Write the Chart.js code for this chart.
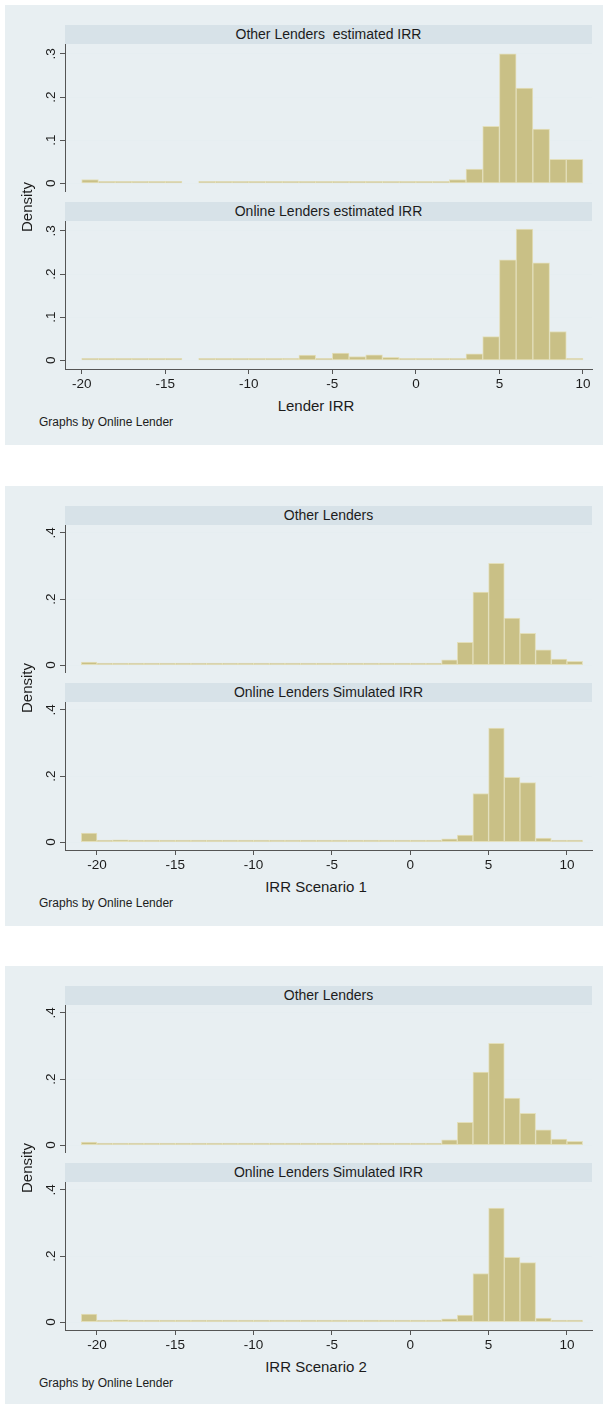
<!DOCTYPE html>
<html>
<head>
<meta charset="utf-8">
<script src="https://cdn.jsdelivr.net/npm/chart.js@4.4.1/dist/chart.umd.min.js"></script>
<style>
  body { margin: 0; background: #fff; font-family: "Liberation Sans", Arial, sans-serif; color: #1c1c1c; }
  #page { position: relative; width: 603px; height: 1404px; overflow: hidden; }
  .bg { position: absolute; left: 5px; width: 598px; height: 440px; background: #e8eff2; }
  .strip { position: absolute; left: 65px; width: 527px; height: 19px; background: #d7e2e8;
           font-size: 14px; line-height: 19px; text-align: center; white-space: pre; }
  canvas { position: absolute; left: 0; }
  .xtitle { position: absolute; left: 216px; width: 200px; text-align: center; font-size: 15px; line-height: 18px; }
  .note { position: absolute; left: 39px; font-size: 12px; line-height: 14px; }
  .ytitle { position: absolute; left: -23px; width: 100px; text-align: center; font-size: 15px; line-height: 18px;
            transform: rotate(-90deg); }
</style>
</head>
<body>
<div id="page"></div>
<script>
// bin lower edges (width 1)
const bins1 = [-20, -19, -18, -17, -16, -15, -14, -13, -12, -11, -10, -9, -8, -7, -6, -5, -4, -3, -2, -1,
               0, 1, 2, 3, 4, 5, 6, 7, 8, 9];
const bins2 = [-21, -20, -19, -18, -17, -16, -15, -14, -13, -12, -11, -10, -9, -8, -7, -6, -5, -4, -3, -2, -1,
               0, 1, 2, 3, 4, 5, 6, 7, 8, 9, 10];

// Lender IRR
const otherEst = [0.009, 0.001, 0.001, 0.001, 0.001, 0.002, null, 0.002, 0.001, 0.001, 0.002, 0.002, 0.002, 0.002, 0.002,
                  0.003, 0.003, 0.004, 0.004, 0.003, 0.001, 0.004, 0.009, 0.033, 0.132, 0.300, 0.221, 0.126, 0.056, 0.056];
const onlineEst = [0.002, 0.001, 0.001, 0.001, 0.001, 0.001, null, 0.001, 0.001, 0.001, 0.001, 0.002, 0.005, 0.012, 0.003,
                   0.017, 0.009, 0.013, 0.007, 0.003, 0.002, 0.002, 0.004, 0.015, 0.055, 0.233, 0.304, 0.226, 0.067, 0.005];

// IRR Scenario 1
const otherS1 = [0.009, 0.002, 0.001, 0.001, 0.001, 0.002, 0.002, 0.002, 0.002, 0.002, 0.002, 0.002, 0.002, 0.002, 0.002, 0.002,
                 0.003, 0.003, 0.003, 0.003, 0.002, 0.002, 0.006, 0.016, 0.069, 0.221, 0.308, 0.142, 0.096, 0.046, 0.018, 0.011];
const onlineS1 = [0.027, 0.004, 0.007, 0.003, 0.001, 0.002, 0.003, 0.006, 0.003, 0.003, 0.002, 0.002, 0.002, 0.002, 0.002, 0.002,
                  0.001, 0.001, 0.001, 0.001, 0.001, 0.001, 0.002, 0.010, 0.021, 0.147, 0.345, 0.196, 0.180, 0.012, 0.002, 0.001];

// IRR Scenario 2
const otherS2 = [0.009, 0.002, 0.001, 0.001, 0.001, 0.002, 0.001, 0.002, 0.002, 0.002, 0.002, 0.002, 0.002, 0.002, 0.002, 0.002,
                 0.003, 0.003, 0.003, 0.003, 0.002, 0.002, 0.006, 0.016, 0.069, 0.221, 0.308, 0.142, 0.096, 0.046, 0.018, 0.011];
const onlineS2 = [0.024, 0.004, 0.007, 0.003, 0.001, 0.002, 0.003, 0.005, 0.003, 0.003, 0.002, 0.002, 0.002, 0.002, 0.002, 0.002,
                  0.002, 0.001, 0.001, 0.001, 0.001, 0.001, 0.002, 0.010, 0.021, 0.147, 0.345, 0.196, 0.180, 0.012, 0.002, 0.001];

const xTicks = [-20, -15, -10, -5, 0, 5, 10];
const yTicks1 = [0, 0.1, 0.2, 0.3];
const yLabels1 = ['0', '.1', '.2', '.3'];
const yTicks2 = [0, 0.2, 0.4];
const yLabels2 = ['0', '.2', '.4'];

const panels = [
  { top: 0, titles: ['Other Lenders  estimated IRR', 'Online Lenders estimated IRR'], xTitle: 'Lender IRR',
    bins: bins1, series: [otherEst, onlineEst], xMin: -21, xMax: 10.54, yMin: -0.02, yMax: 0.323, yTicks: yTicks1, yLabels: yLabels1 },
  { top: 481, titles: ['Other Lenders', 'Online Lenders Simulated IRR'], xTitle: 'IRR Scenario 1',
    bins: bins2, series: [otherS1, onlineS1], xMin: -22.04, xMax: 11.6, yMin: -0.024, yMax: 0.424, yTicks: yTicks2, yLabels: yLabels2 },
  { top: 961, titles: ['Other Lenders', 'Online Lenders Simulated IRR'], xTitle: 'IRR Scenario 2',
    bins: bins2, series: [otherS2, onlineS2], xMin: -22.04, xMax: 11.6, yMin: -0.024, yMax: 0.424, yTicks: yTicks2, yLabels: yLabels2 }
];

const page = document.getElementById('page');
function addDiv(cls, top, text) {
  const d = document.createElement('div');
  d.className = cls;
  d.style.top = top + 'px';
  if (text) d.textContent = text;
  page.appendChild(d);
  return d;
}

// rotated Stata-style y labels
const yLabelPlugin = {
  id: 'ylabels',
  afterDraw(chart, args, opts) {
    const s = chart.scales.y, ctx = chart.ctx;
    ctx.save();
    ctx.fillStyle = '#1c1c1c';
    ctx.font = '13.5px "Liberation Sans", Arial, sans-serif';
    ctx.textAlign = 'center';
    ctx.textBaseline = 'middle';
    opts.values.forEach((v, i) => {
      ctx.save();
      ctx.translate(51, s.getPixelForValue(v));
      ctx.rotate(-Math.PI / 2);
      ctx.fillText(opts.labels[i], 0, 0);
      ctx.restore();
    });
    ctx.restore();
  }
};

function makeChart(p, k, top) {
  const withAxis = k === 1;
  const cv = document.createElement('canvas');
  cv.width = 603;
  cv.height = withAxis ? 175 : 148;
  cv.style.top = top + 'px';
  page.appendChild(cv);
  new Chart(cv.getContext('2d'), {
    type: 'bar',
    data: {
      datasets: [{
        data: p.bins.map((b, i) => ({ x: b + 0.5, y: p.series[k][i] })),
        backgroundColor: '#c9c086',
        borderColor: '#e3dfbb',
        borderWidth: 1,
        borderSkipped: false,
        minBarLength: 2,
        barPercentage: 1,
        categoryPercentage: 1
      }]
    },
    options: {
      responsive: false,
      animation: false,
      layout: { padding: { left: 0, right: 11, top: 0, bottom: 0 } },
      plugins: { legend: { display: false }, tooltip: { enabled: false },
                 ylabels: { values: p.yTicks, labels: p.yLabels } },
      scales: {
        x: {
          type: 'linear', display: withAxis, offset: false,
          min: p.xMin, max: p.xMax,
          afterBuildTicks: s => { s.ticks = xTicks.map(v => ({ value: v })); },
          afterFit: s => { s.height = withAxis ? 27 : 0; },
          ticks: { color: '#1c1c1c', padding: 2, maxRotation: 0,
                   font: { family: '"Liberation Sans", Arial, sans-serif', size: 13.5 } },
          grid: { offset: false, drawOnChartArea: false, drawTicks: true, tickLength: 5, tickColor: '#555' },
          border: { color: '#555', width: 1 }
        },
        y: {
          min: p.yMin, max: p.yMax,
          afterBuildTicks: s => { s.ticks = p.yTicks.map(v => ({ value: v })); },
          afterFit: s => { s.width = 65; },
          ticks: { display: false },
          grid: { color: '#e6eef1', lineWidth: 1, drawTicks: true, tickLength: 5, tickColor: '#555' },
          border: { color: '#555', width: 1 }
        }
      }
    },
    plugins: [yLabelPlugin]
  });
}

panels.forEach(p => {
  const t = p.top;
  addDiv('bg', t + 5);
  addDiv('strip', t + 25, p.titles[0]);
  makeChart(p, 0, t + 44);
  addDiv('strip', t + 202, p.titles[1]);
  makeChart(p, 1, t + 221);
  addDiv('xtitle', t + 397, p.xTitle);
  addDiv('note', t + 415, 'Graphs by Online Lender');
  addDiv('ytitle', t + 198, 'Density');
});
</script>
</body>
</html>
